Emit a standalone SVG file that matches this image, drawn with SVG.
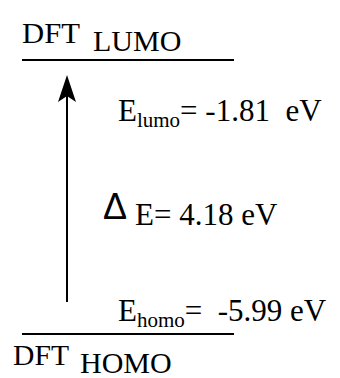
<svg xmlns="http://www.w3.org/2000/svg" width="340" height="378" viewBox="0 0 340 378">
<style>
.t{font-family:'Liberation Serif','Times New Roman',Times,serif;fill:#000}
.lvl{stroke:#000;stroke-width:2}
</style>
<rect width="340" height="378" fill="#fff"/>
<g id="lumo">
<line class="lvl" x1="22" y1="60" x2="234" y2="60"/>
<text class="t" x="22" y="43" font-size="29" textLength="58" lengthAdjust="spacingAndGlyphs">DFT</text>
<text class="t" x="93" y="51" font-size="30">LUMO</text>
</g>
<g id="homo">
<line class="lvl" x1="22" y1="334" x2="234" y2="334"/>
<text class="t" x="13" y="365" font-size="29" textLength="56" lengthAdjust="spacingAndGlyphs">DFT</text>
<text class="t" x="80" y="373" font-size="30">HOMO</text>
</g>
<g id="connectors">
<line x1="67" y1="302" x2="67" y2="95" stroke="#000" stroke-width="2"/>
<polygon points="67,75 76,102 67,96 58,102" fill="#000"/>
</g>
<g id="labels">
<text class="t" x="118" y="121" font-size="31" xml:space="preserve">E<tspan font-size="21" dy="6">lumo</tspan><tspan dy="-6">= -1.81  eV</tspan></text>
<text x="103" y="219" font-size="36" font-family="Liberation Sans, Arial, sans-serif">Δ</text>
<text class="t" x="135" y="225" font-size="31">E= 4.18 eV</text>
<text class="t" x="118" y="321" font-size="31" xml:space="preserve">E<tspan font-size="21" dy="6">homo</tspan><tspan dy="-6">=  -5.99 eV</tspan></text>
</g>
</svg>
